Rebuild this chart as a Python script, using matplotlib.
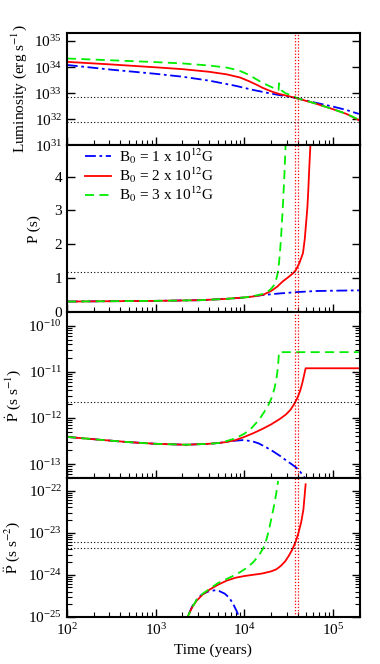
import numpy as np
import matplotlib
matplotlib.use('Agg')
import matplotlib.pyplot as plt
from matplotlib.ticker import LogLocator, NullLocator, NullFormatter, FixedLocator

plt.rcParams['font.family'] = ['Liberation Serif', 'DejaVu Serif']
plt.rcParams['mathtext.fontset'] = 'stix'
plt.rcParams['font.size'] = 11

# Datos (log10 del tiempo en anios y log10 / valor de cada magnitud)
# Luminosidad
lt_L_b1 = [2.0, 2.5, 3.0, 3.3, 3.6, 3.9, 4.1, 4.3, 4.58, 4.8, 5.0, 5.15, 5.29]
lL_b1 = [34.08, 33.9, 33.74, 33.63, 33.48, 33.28, 33.12, 32.98, 32.81, 32.63, 32.48, 32.35, 32.2]
lt_L_b2 = [2.0, 2.5, 3.0, 3.3, 3.6, 3.8, 3.9, 3.95, 4.0, 4.05, 4.1, 4.15, 4.2, 4.25, 4.3, 4.35,
           4.4, 4.5, 4.58, 4.8, 5.0, 5.15, 5.29]
lL_b2 = [34.2, 34.1, 33.99, 33.92, 33.82, 33.72, 33.64, 33.6, 33.53, 33.46, 33.38, 33.3, 33.21,
         33.14, 33.07, 33.01, 32.96, 32.88, 32.81, 32.6, 32.38, 32.2, 31.96]
lt_L_b3 = [2.0, 2.5, 3.0, 3.3, 3.6, 3.8, 3.9, 3.95, 4.0, 4.05, 4.1, 4.15, 4.2, 4.25, 4.3, 4.35,
           4.385, 4.39, 4.4, 4.42, 4.46, 4.5, 4.6, 4.8, 5.0, 5.15, 5.29]
lL_b3 = [34.33, 34.26, 34.19, 34.14, 34.06, 33.98, 33.9, 33.85, 33.78, 33.7, 33.6, 33.5, 33.4,
         33.32, 33.24, 33.16, 33.12, 33.38, 33.22, 33.1, 33.0, 32.95, 32.8, 32.6, 32.38, 32.2, 31.98]

# Periodo
lt_P_b1 = [2.0, 2.5, 3.0, 3.5, 3.8, 4.0, 4.2, 4.4, 4.6, 4.8, 5.0, 5.29]
P_b1 = [0.31, 0.32, 0.33, 0.35, 0.39, 0.43, 0.5, 0.55, 0.59, 0.62, 0.63, 0.64]
lt_P_b2 = [2.0, 2.5, 3.0, 3.5, 3.8, 4.0, 4.1, 4.21, 4.3, 4.37, 4.43, 4.5, 4.55, 4.58, 4.62,
           4.66, 4.68, 4.695, 4.71, 4.72, 4.73, 4.745]
P_b2 = [0.31, 0.32, 0.33, 0.35, 0.39, 0.43, 0.46, 0.51, 0.62, 0.75, 0.9, 1.04, 1.15, 1.24, 1.45,
        1.74, 2.15, 2.62, 3.1, 3.6, 4.2, 5.0]
lt_P_b3 = [2.0, 2.5, 3.0, 3.5, 3.8, 4.0, 4.1, 4.2, 4.26, 4.3, 4.33, 4.355, 4.375, 4.39, 4.405,
           4.42, 4.435, 4.45, 4.465]
P_b3 = [0.31, 0.32, 0.33, 0.35, 0.39, 0.43, 0.47, 0.53, 0.6, 0.68, 0.78, 0.92, 1.15, 1.45, 1.9,
        2.5, 3.2, 4.0, 5.0]

# Derivada del periodo
lt_Pd_b1 = [2.0, 2.3, 2.67, 3.0, 3.34, 3.6, 3.72, 3.85, 3.98, 4.08, 4.16, 4.24, 4.32, 4.4, 4.47,
            4.53, 4.58, 4.63, 4.68, 4.72]
lPd_b1 = [-12.41, -12.46, -12.52, -12.56, -12.58, -12.56, -12.54, -12.5, -12.48, -12.5, -12.55,
          -12.63, -12.72, -12.82, -12.92, -13.0, -13.07, -13.17, -13.3, -13.4]
lt_Pd_b2 = [2.0, 2.3, 2.67, 3.0, 3.34, 3.6, 3.72, 3.8, 3.9, 4.0, 4.1, 4.2, 4.3, 4.4, 4.47, 4.52,
            4.56, 4.6, 4.63, 4.655, 4.675, 4.69, 5.29]
lPd_b2 = [-12.41, -12.46, -12.52, -12.56, -12.58, -12.56, -12.54, -12.52, -12.48, -12.41, -12.33,
          -12.24, -12.14, -12.02, -11.92, -11.82, -11.7, -11.55, -11.4, -11.22, -11.05, -10.92,
          -10.92]
lt_Pd_b3 = [2.0, 2.3, 2.67, 3.0, 3.34, 3.6, 3.72, 3.8, 3.9, 4.0, 4.08, 4.16, 4.22, 4.27, 4.31,
            4.34, 4.365, 4.38, 4.39, 5.29]
lPd_b3 = [-12.41, -12.46, -12.52, -12.56, -12.58, -12.56, -12.54, -12.5, -12.44, -12.34, -12.22,
          -12.05, -11.88, -11.72, -11.55, -11.35, -11.1, -10.85, -10.57, -10.57]

# Segunda derivada del periodo
lt_Pdd_b1 = [3.3, 3.36, 3.41, 3.46, 3.52, 3.59, 3.66, 3.72, 3.78, 3.83, 3.87, 3.91, 3.94, 3.97]
lPdd_b1 = [-25.4, -25.0, -24.76, -24.6, -24.47, -24.4, -24.37, -24.39, -24.45, -24.55, -24.68,
           -24.85, -25.0, -25.2]
lt_Pdd_b2 = [3.3, 3.36, 3.41, 3.46, 3.53, 3.61, 3.7, 3.8, 3.9, 4.0, 4.1, 4.2, 4.3, 4.36, 4.41,
             4.46, 4.5, 4.54, 4.58, 4.61, 4.64, 4.665, 4.69]
lPdd_b2 = [-25.4, -25.0, -24.78, -24.62, -24.47, -24.35, -24.24, -24.14, -24.07, -24.03, -24.0,
           -23.97, -23.92, -23.87, -23.79, -23.68, -23.55, -23.4, -23.2, -23.0, -22.75, -22.45,
           -21.85]
lt_Pdd_b3 = [3.3, 3.36, 3.41, 3.46, 3.53, 3.61, 3.7, 3.8, 3.87, 3.95, 4.03, 4.1, 4.16, 4.21,
             4.25, 4.28, 4.31, 4.34, 4.36, 4.38]
lPdd_b3 = [-25.4, -25.0, -24.78, -24.6, -24.45, -24.33, -24.2, -24.1, -24.03, -23.94, -23.83,
           -23.7, -23.55, -23.38, -23.15, -22.9, -22.6, -22.3, -22.05, -21.77]

# Lineas de referencia
t_ref = [3.74e4, 4.0e4]
L_ref = [6.9e32, 7.5e31]
P_ref = 1.18
Pd_ref = 2.24e-12
Pdd_ref = [6.0e-24, 4.3e-24]

labels = [r'B$_0$ = 1 x 10$^{12}$G', r'B$_0$ = 2 x 10$^{12}$G', r'B$_0$ = 3 x 10$^{12}$G']
colors = ['#0000ff', '#ff0000', '#00ee00']
styles = [(0, (6, 2, 1.5, 2)), '-', (0, (5, 3))]

fig = plt.figure(figsize=(3.8, 6.64), dpi=100)
gs = fig.add_gridspec(4, 1, height_ratios=[112, 167, 166, 139], hspace=0,
                      left=0.176, right=0.947, bottom=0.071, top=0.950)
axes = [fig.add_subplot(gs[i]) for i in range(4)]

lw = 1.3
series = [
    [(lt_L_b1, lL_b1), (lt_L_b2, lL_b2), (lt_L_b3, lL_b3)],
    [(lt_P_b1, P_b1), (lt_P_b2, P_b2), (lt_P_b3, P_b3)],
    [(lt_Pd_b1, lPd_b1), (lt_Pd_b2, lPd_b2), (lt_Pd_b3, lPd_b3)],
    [(lt_Pdd_b1, lPdd_b1), (lt_Pdd_b2, lPdd_b2), (lt_Pdd_b3, lPdd_b3)],
]

for k, ax in enumerate(axes):
    for j, (lt, yv) in enumerate(series[k]):
        x = 10 ** np.array(lt)
        y = np.array(yv) if k == 1 else 10 ** np.array(yv)
        ax.plot(x, y, color=colors[j], linestyle=styles[j], lw=lw, label=labels[j])
    for tr in t_ref:
        ax.axvline(tr, color='red', linestyle=(0, (1, 1.5)), lw=0.9)
    ax.set_xscale('log')
    ax.set_xlim(1e2, 2e5)
    ax.xaxis.set_minor_locator(LogLocator(base=10, subs=np.arange(2, 10)))
    ax.tick_params(which='both', direction='in', top=False, right=True, labelsize=11)
    ax.tick_params(which='major', length=6, width=1.0)
    ax.tick_params(which='minor', length=3.5, width=0.8)
    for sp in ax.spines.values():
        sp.set_linewidth(1.5)
    if k < 3:
        ax.tick_params(labelbottom=False)

dot = dict(color='black', linestyle=(0, (1, 2)), lw=0.8)

# Luminosidad
ax = axes[0]
ax.set_yscale('log')
ax.set_ylim(1e31, 2e35)
ax.yaxis.set_major_locator(FixedLocator([1e31, 1e32, 1e33, 1e34, 1e35]))
ax.yaxis.set_minor_locator(NullLocator())
for v in L_ref:
    ax.axhline(v, **dot)
ax.set_ylabel(r'Luminosity (erg s$^{-1}$)', fontsize=11)

# Periodo
ax = axes[1]
ax.set_ylim(0, 4.93)
ax.set_yticks([0, 1, 2, 3, 4])
ax.axhline(P_ref, **dot)
ax.set_ylabel('P (s)', fontsize=11, labelpad=10)
ax.legend(loc='upper left', frameon=False, fontsize=11, handlelength=1.7,
          labelspacing=0.0, borderaxespad=0.0, handletextpad=0.55,
          bbox_to_anchor=(0.04, 1.03))

# Derivada
ax = axes[2]
ax.set_yscale('log')
ax.set_ylim(5e-14, 2e-10)
ax.yaxis.set_major_locator(FixedLocator([1e-13, 1e-12, 1e-11, 1e-10]))
ax.yaxis.set_minor_locator(LogLocator(base=10, subs=np.arange(2, 10)))
ax.yaxis.set_minor_formatter(NullFormatter())
ax.axhline(Pd_ref, **dot)
ax.set_ylabel(r'$\dot{\rm P}$ (s s$^{-1}$)', fontsize=11)

# Segunda derivada
ax = axes[3]
ax.set_yscale('log')
ax.set_ylim(1e-25, 2e-22)
ax.yaxis.set_major_locator(FixedLocator([1e-25, 1e-24, 1e-23, 1e-22]))
ax.yaxis.set_minor_locator(LogLocator(base=10, subs=np.arange(2, 10)))
ax.yaxis.set_minor_formatter(NullFormatter())
for v in Pdd_ref:
    ax.axhline(v, **dot)
ax.set_ylabel(r'$\ddot{\rm P}$ (s s$^{-2}$)', fontsize=11)
ax.set_xlabel('Time (years)', fontsize=11)

fig.savefig('out.png', dpi=100)
